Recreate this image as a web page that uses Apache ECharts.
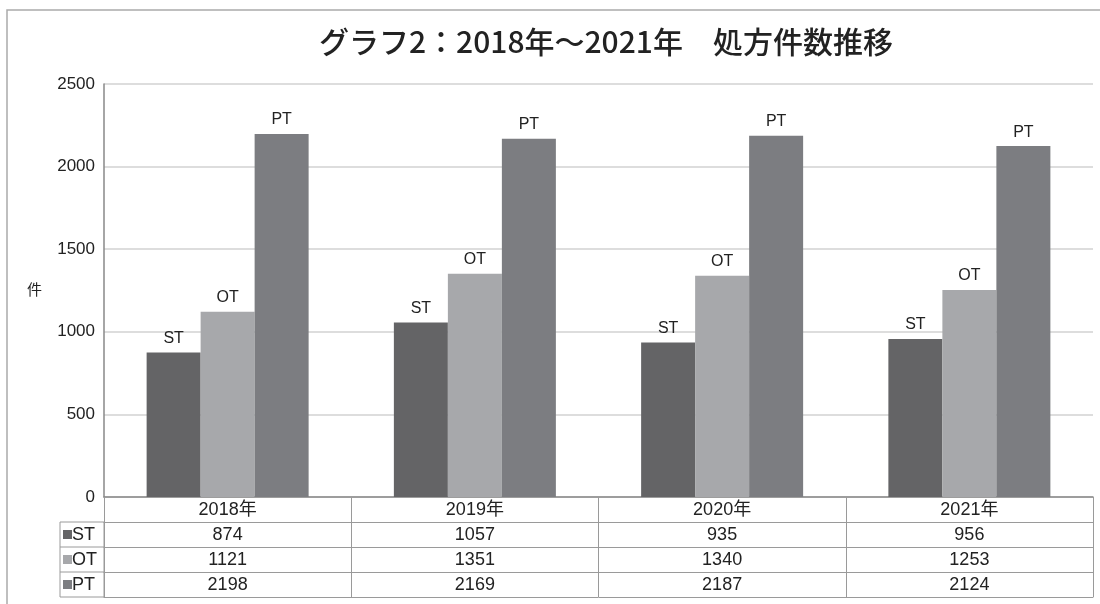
<!DOCTYPE html>
<html>
<head>
<meta charset="utf-8">
<script src="https://cdn.jsdelivr.net/npm/echarts@6/dist/echarts.min.js"></script>
<style>
  html, body { margin: 0; padding: 0; background: #fff; }
  #app { width: 1100px; height: 604px; }
</style>
</head>
<body>
<div id="app"></div>
<script>
// データ
const years = ['2018年', '2019年', '2020年', '2021年'];
const seriesNames = ['ST', 'OT', 'PT'];
const stValues = [874, 1057, 935, 956];
const otValues = [1121, 1351, 1340, 1253];
const ptValues = [2198, 2169, 2187, 2124];
const yTicks = [0, 500, 1000, 1500, 2000, 2500];

const colors = ['#646466', '#a7a8ab', '#7c7d81'];
const allValues = [stValues, otValues, ptValues];
const FONT = 'Liberation Sans, Noto Sans CJK JP, sans-serif';

const gridLeft = 104, gridBottom = 497, rowH = 25;

// 表の行（ST / OT / PT）
const rowAxes = seriesNames.map(function (name, i) {
  return {
    type: 'category',
    position: 'bottom',
    offset: rowH * (i + 1),
    data: years,
    axisLine: { show: true, lineStyle: { color: '#9a9a9a', width: 1 } },
    axisTick: { show: false },
    axisLabel: {
      margin: 4, fontSize: 18, color: '#222', fontFamily: FONT,
      formatter: function (v, idx) { return String(allValues[i][idx]); }
    }
  };
});

// 凡例の列
const legendGraphic = [{
  type: 'rect',
  shape: { x: 60, y: gridBottom + rowH, width: gridLeft - 60, height: rowH * 3 },
  style: { fill: 'none', stroke: '#9a9a9a', lineWidth: 1 }
}];
seriesNames.forEach(function (name, i) {
  const top = gridBottom + rowH * (i + 1);
  if (i > 0) {
    legendGraphic.push({
      type: 'line',
      shape: { x1: 60, y1: top, x2: gridLeft, y2: top },
      style: { stroke: '#9a9a9a', lineWidth: 1 }
    });
  }
  legendGraphic.push({
    type: 'rect',
    shape: { x: 63, y: top + 8, width: 9, height: 9 },
    style: { fill: colors[i] }
  });
  legendGraphic.push({
    type: 'text',
    x: 72, y: top + 13,
    style: { text: name, fontSize: 18, fill: '#222', fontFamily: FONT, verticalAlign: 'middle' }
  });
});

const chart = echarts.init(document.getElementById('app'));
chart.setOption({
  backgroundColor: '#fff',
  animation: false,
  title: {
    text: 'グラフ2：2018年～2021年　処方件数推移',
    left: 314,
    top: 22,
    textStyle: { fontSize: 30, fontWeight: 500, color: '#222', fontFamily: 'Noto Sans CJK JP, sans-serif' }
  },
  grid: { left: gridLeft, right: 7, top: 84, bottom: 604 - gridBottom, containLabel: false },
  xAxis: [{
    type: 'category',
    position: 'bottom',
    data: years,
    axisLine: { show: true, lineStyle: { color: '#888', width: 1.5 } },
    axisTick: { show: true, length: rowH * 4, lineStyle: { color: '#9a9a9a', width: 1 } },
    axisLabel: { margin: 4, fontSize: 18, color: '#222', fontFamily: FONT }
  }].concat(rowAxes).concat([{
    type: 'category',
    position: 'bottom',
    offset: rowH * 4,
    data: years,
    axisLine: { show: true, lineStyle: { color: '#9a9a9a', width: 1 } },
    axisTick: { show: false },
    axisLabel: { show: false }
  }]),
  yAxis: {
    type: 'value',
    min: yTicks[0],
    max: yTicks[yTicks.length - 1],
    interval: yTicks[1] - yTicks[0],
    name: '件',
    nameLocation: 'middle',
    nameGap: 62,
    nameRotate: 0,
    nameTextStyle: { fontSize: 15, color: '#222', fontFamily: FONT },
    axisLine: { show: true, lineStyle: { color: '#888', width: 1.5 } },
    axisTick: { show: false },
    splitLine: { lineStyle: { color: '#d2d2d2', width: 1.5 } },
    axisLabel: {
      fontSize: 17, color: '#222', margin: 9, fontFamily: FONT,
      formatter: function (v) { return String(v); }
    }
  },
  graphic: [{
    type: 'rect',
    shape: { x: 7, y: 10, width: 1200, height: 700 },
    style: { fill: 'none', stroke: '#aaa', lineWidth: 1.5 }
  }].concat(legendGraphic),
  series: seriesNames.map(function (name, i) {
    return {
      name: name,
      type: 'bar',
      data: allValues[i],
      barWidth: 54,
      barGap: '0%',
      itemStyle: { color: colors[i] },
      label: {
        show: true, position: 'top', distance: 6,
        formatter: name, fontSize: 16, color: '#222', fontFamily: FONT
      }
    };
  })
});
</script>
</body>
</html>
